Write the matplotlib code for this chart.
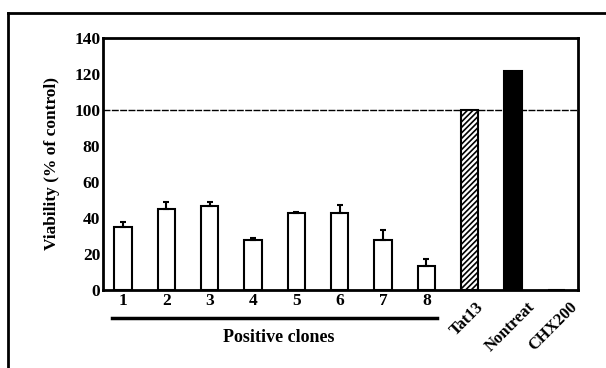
import matplotlib.pyplot as plt
import matplotlib.transforms as mtransforms
from matplotlib.lines import Line2D

# data
labels = ['1', '2', '3', '4', '5', '6', '7', '8', 'Tat13', 'Nontreat', 'CHX200']
viab = [35, 45, 46.5, 28, 42.7, 43, 28, 13.5, 100, 121.5, 0]
err_up = [3, 4, 2.5, 1, 0.8, 4, 5.5, 3.5, 0, 0, 0]

plt.rcParams['font.family'] = ['Liberation Serif', 'DejaVu Serif']
plt.rcParams['font.weight'] = 'bold'
plt.rcParams['hatch.linewidth'] = 1.2

fig = plt.figure(figsize=(6.06, 3.68), dpi=100)
ax = fig.add_axes([0.170, 0.212, 0.784, 0.685])

x = list(range(len(labels)))
face = ['white'] * 8 + ['white', 'black', 'white']
hatch = [None] * 8 + ['//////', None, None]
for i in x:
    ax.bar(i, viab[i], width=0.4, color=face[i], edgecolor='black',
           linewidth=1.5, hatch=hatch[i], zorder=3)
# only the upper half of the error bars
ax.errorbar(x[:8], viab[:8], yerr=[[0] * 8, err_up[:8]], fmt='none',
            ecolor='black', elinewidth=1.5, capsize=2.5, capthick=1.5, zorder=4)

ax.axhline(100, color='black', lw=1, ls=(0, (5, 1)), zorder=2)

ax.set_xlim(-0.46, 10.5)
ax.set_ylim(0, 140)
ax.set_yticks([0, 20, 40, 60, 80, 100, 120, 140])
ax.set_yticklabels(['0', '20', '40', '60', '80', '100', '120', '140'],
                   fontsize=12.5, fontweight='bold')
ax.set_xticks(x)
ax.set_xticklabels(labels, fontsize=12.5, fontweight='bold')
ax.tick_params(length=0, pad=2)
shift = mtransforms.ScaledTranslation(-0.03, -0.06, fig.dpi_scale_trans)
for t in ax.get_xticklabels()[8:]:
    t.set_rotation(45)
    t.set_fontsize(12)
    t.set_ha('center')
    t.set_transform(t.get_transform() + shift)
for s in ax.spines.values():
    s.set_linewidth(2)

ax.set_ylabel('Viability (% of control)', fontsize=12.5, fontweight='bold', labelpad=10)

# underline under the clones and its label
ax.plot([-0.25, 7.25], [-15.5, -15.5], color='black', lw=2.5, clip_on=False)
ax.text(3.6, -26.5, 'Positive clones', ha='center', va='center', fontsize=13,
        fontweight='bold')

# outer frame
fig.add_artist(Line2D([0.013, 1.0], [0.965, 0.965], color='black', lw=2))
fig.add_artist(Line2D([0.013, 0.013], [0.0, 0.965], color='black', lw=2))

fig.savefig('out.png', dpi=100)
